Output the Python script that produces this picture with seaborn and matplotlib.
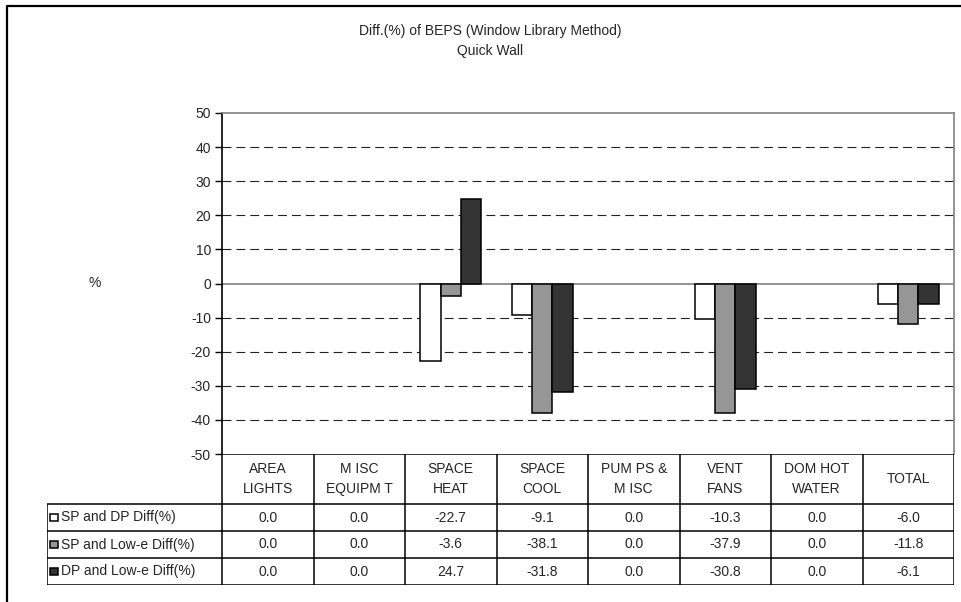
import pandas as pd
import numpy as np
import matplotlib.pyplot as plt
import seaborn as sns
from matplotlib.patches import Rectangle
from matplotlib.lines import Line2D

# chart values
categories = ['AREA\nLIGHTS', 'M ISC\nEQUIPM T', 'SPACE\nHEAT', 'SPACE\nCOOL',
              'PUM PS &\nM ISC', 'VENT\nFANS', 'DOM HOT\nWATER', 'TOTAL']
series = ['SP and DP Diff(%)', 'SP and Low-e Diff(%)', 'DP and Low-e Diff(%)']
sp_dp = [0.0, 0.0, -22.7, -9.1, 0.0, -10.3, 0.0, -6.0]
sp_lowe = [0.0, 0.0, -3.6, -38.1, 0.0, -37.9, 0.0, -11.8]
dp_lowe = [0.0, 0.0, 24.7, -31.8, 0.0, -30.8, 0.0, -6.1]
colors = ['#ffffff', '#969696', '#333333']

values = [sp_dp, sp_lowe, dp_lowe]
rows = []
for s, vals in zip(series, values):
    for c, v in zip(categories, vals):
        rows.append({'cat': c, 'series': s, 'value': v})
df = pd.DataFrame(rows)

sns.set_style('white')
plt.rcParams['font.family'] = ['Liberation Sans', 'DejaVu Sans']
plt.rcParams['axes.unicode_minus'] = False
fs = 10

W, H = 961, 602
fig = plt.figure(figsize=(W / 100, H / 100), dpi=100)

def fx(px):
    return px / W

def fy(py):
    return 1 - py / H

# main plot area
ax = fig.add_axes([fx(222), fy(454), fx(954) - fx(222), fy(113) - fy(454)])
sns.barplot(data=df, x='cat', y='value', hue='series', order=categories,
            hue_order=series, palette=colors, width=0.67, gap=0,
            edgecolor='black', linewidth=1.1, legend=False, ax=ax)
# zero-height bars are not drawn in the original
for p in ax.patches:
    if abs(p.get_height()) < 1e-9:
        p.set_visible(False)
ax.set_xlim(-0.5, len(categories) - 0.5)
ax.set_ylim(-50, 50)
ax.set_yticks(np.arange(-50, 51, 10))
ax.set_xticks([])
ax.set_xlabel('')
ax.set_ylabel('')
for y in np.arange(-40, 50, 10):
    if y == 0:
        continue
    ax.axhline(y, color='#222222', lw=0.8, dashes=(8, 4.5), zorder=0)
ax.axhline(0, color='#808080', lw=1.2, zorder=0.5)
ax.tick_params(axis='y', length=5, width=1, color='black', labelsize=fs, pad=3,
               left=True)
for side in ['top', 'right']:
    ax.spines[side].set_color('#808080')
    ax.spines[side].set_linewidth(1.2)
ax.spines['left'].set_color('black')
ax.spines['left'].set_linewidth(1.2)
ax.spines['bottom'].set_visible(False)
fig.text(fx(95), fy(283), '%', ha='center', va='center', fontsize=fs)

# data table below the plot
lab_w = (222 - 47) / ((954 - 222) / len(categories))
hdr_h, row_h = 50, 27
tab_h = hdr_h + row_h * len(series)
tab = fig.add_axes([fx(47), fy(454 + tab_h), fx(954) - fx(47), fy(454) - fy(454 + tab_h)])
tab.set_xlim(-0.5 - lab_w, len(categories) - 0.5)
tab.set_ylim(tab_h, 0)
tab.axis('off')
lk = dict(color='black', lw=1.1, solid_capstyle='butt')
x_left = -0.5 - lab_w
x_right = len(categories) - 0.5
# horizontal lines
tab.plot([-0.5, x_right], [0, 0], **lk)
for r in range(len(series) + 1):
    y = hdr_h + r * row_h
    tab.plot([x_left, x_right], [y, y], **lk)
# vertical lines
tab.plot([x_left, x_left], [hdr_h, tab_h], **lk)
for i in range(len(categories) + 1):
    tab.plot([i - 0.5, i - 0.5], [0, tab_h], **lk)
# header text
for i, c in enumerate(categories):
    tab.text(i, hdr_h / 2, c, ha='center', va='center', fontsize=fs,
             linespacing=1.5)
# rows
key_w = 0.085
for r, (s, vals, col) in enumerate(zip(series, values, colors)):
    yc = hdr_h + r * row_h + row_h / 2
    tab.add_patch(Rectangle((x_left + 0.03, yc - 3.8), key_w, 7.6,
                            facecolor=col, edgecolor='black', lw=1.1))
    tab.text(x_left + 0.15, yc, s, ha='left', va='center', fontsize=fs)
    for i, v in enumerate(vals):
        tab.text(i, yc, f'{v:.1f}', ha='center', va='center', fontsize=fs)

# title
fig.text(fx(490), fy(31), 'Diff.(%) of BEPS (Window Library Method)',
         ha='center', va='center', fontsize=fs)
fig.text(fx(490), fy(51), 'Quick Wall', ha='center', va='center', fontsize=fs)

# outer chart frame
fig.add_artist(Line2D([fx(7), fx(7), fx(961)], [0, fy(6), fy(6)],
                      color='black', lw=1.6, transform=fig.transFigure))

fig.savefig('out.png', dpi=100)
